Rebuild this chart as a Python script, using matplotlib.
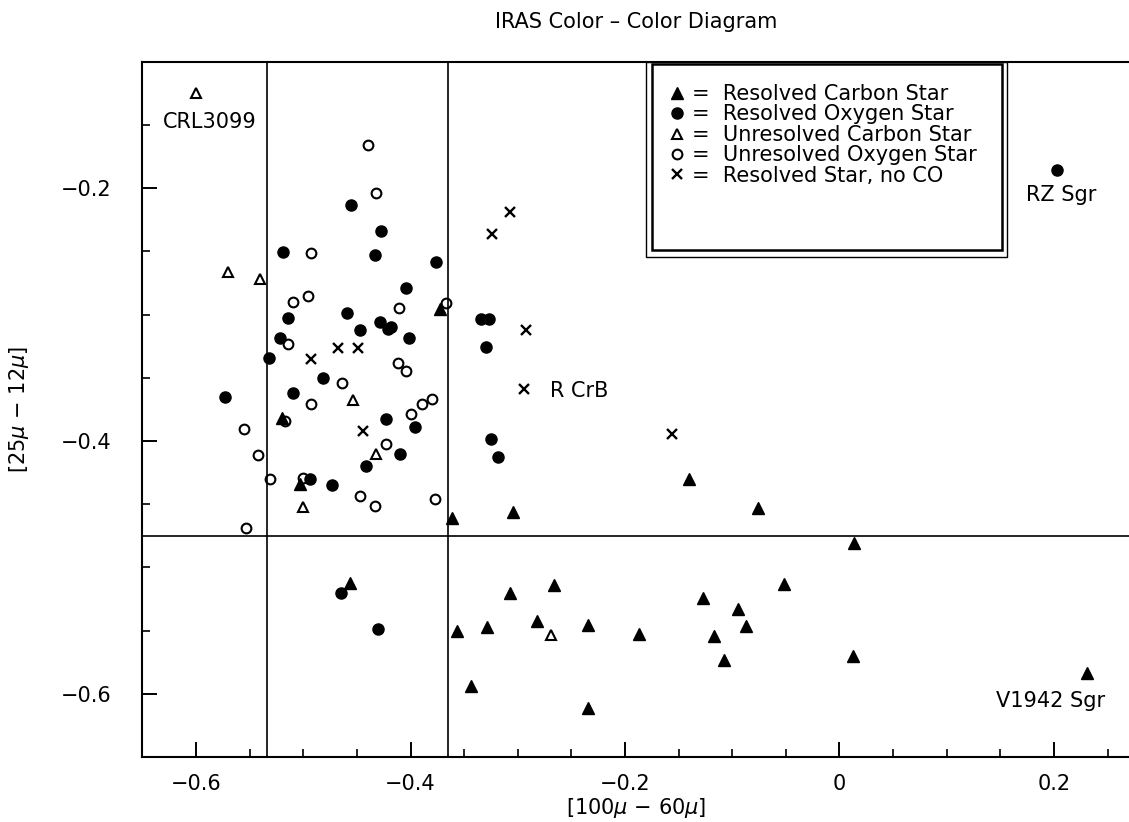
import matplotlib
matplotlib.use("Agg")
import matplotlib.pyplot as plt
from matplotlib.lines import Line2D
from matplotlib.patches import Rectangle
from matplotlib.ticker import MultipleLocator

# resolved carbon stars (filled triangles)
rc_x = [-0.3728, -0.361, -0.3045, -0.140, -0.0761, 0.014, -0.0513, 0.013, 0.2305,
        -0.3567, -0.3284, -0.3439, -0.3069, -0.2817, -0.2662, -0.2349, -0.2349,
        -0.1873, -0.1277, -0.1174, -0.1081, -0.0948, -0.0873, -0.4567, -0.5033, -0.5203]
rc_y = [-0.2957, -0.4606, -0.4559, -0.430, -0.4527, -0.4804, -0.5128, -0.570, -0.5832,
        -0.5507, -0.5468, -0.5942, -0.520, -0.5428, -0.5138, -0.5455, -0.6116,
        -0.5528, -0.5243, -0.5542, -0.5729, -0.5328, -0.546, -0.512, -0.4343, -0.3816]

# resolved oxygen stars (filled circles)
ro_x = [0.2025, -0.4653, -0.4302, -0.4728, -0.4939, -0.5188, -0.5141, -0.5219, -0.5318,
        -0.4821, -0.5095, -0.5732, -0.4551, -0.4278, -0.4334, -0.3765, -0.4045, -0.4592,
        -0.4473, -0.4287, -0.4213, -0.4178, -0.4017, -0.3346, -0.3271, -0.3293, -0.3253,
        -0.3184, -0.4231, -0.3961, -0.4101, -0.4411]
ro_y = [-0.186, -0.520, -0.5489, -0.4348, -0.4303, -0.2503, -0.3025, -0.3188, -0.3346,
        -0.3504, -0.3623, -0.365, -0.2134, -0.234, -0.2532, -0.2583, -0.2788, -0.2986,
        -0.3125, -0.3057, -0.3115, -0.3099, -0.3183, -0.3038, -0.3038, -0.3257, -0.3987,
        -0.4127, -0.3829, -0.3889, -0.41, -0.4198]

# unresolved carbon stars (open triangles)
uc_x = [-0.6002, -0.5701, -0.5405, -0.4541, -0.4318, -0.5002, -0.2687]
uc_y = [-0.1251, -0.2662, -0.2722, -0.3676, -0.4105, -0.4522, -0.5532]

# unresolved oxygen stars (open circles)
uo_x = [-0.4396, -0.4318, -0.4107, -0.3672, -0.4924, -0.4955, -0.5095, -0.5141, -0.4924,
        -0.5552, -0.5421, -0.5312, -0.5536, -0.5172, -0.5002, -0.4635, -0.4116, -0.4038,
        -0.3992, -0.3889, -0.3796, -0.4231, -0.4473, -0.3775, -0.4334]
uo_y = [-0.1662, -0.2037, -0.2946, -0.2907, -0.2511, -0.2854, -0.2899, -0.3231, -0.371,
        -0.3908, -0.4113, -0.4303, -0.4685, -0.3842, -0.4295, -0.3539, -0.3381, -0.3447,
        -0.3789, -0.3705, -0.3666, -0.4026, -0.4435, -0.446, -0.4514]

# resolved stars without CO (crosses)
nc_x = [-0.3075, -0.3237, -0.292, -0.2945, -0.1563, -0.4924, -0.4676, -0.4489, -0.4448]
nc_y = [-0.219, -0.2361, -0.3125, -0.3587, -0.3947, -0.3354, -0.3262, -0.3262, -0.3921]

# named objects
names = ["CRL3099", "R CrB", "RZ Sgr", "V1942 Sgr"]
name_x = [-0.631, -0.270, 0.1737, 0.146]
name_y = [-0.148, -0.3605, -0.2055, -0.6055]

# dividing lines
vlines = [-0.534, -0.365]
hline = -0.475

plt.rcParams['font.family'] = ['DejaVu Sans']
FS = 15

fig = plt.figure(figsize=(11.29, 8.22), dpi=100)
ax = fig.add_axes([0.1262, 0.0791, 0.8738, 0.8458])

for v in vlines:
    ax.axvline(v, color='black', lw=1.2, zorder=1)
ax.axhline(hline, color='black', lw=1.2, zorder=1)

ax.plot(rc_x, rc_y, ls='none', marker='^', ms=8.5, color='black', zorder=3)
ax.plot(ro_x, ro_y, ls='none', marker='o', ms=8, color='black', zorder=3)
ax.plot(uc_x, uc_y, ls='none', marker='^', ms=7.5, mfc='white', mec='black', mew=1.5, zorder=3)
ax.plot(uo_x, uo_y, ls='none', marker='o', ms=7, mfc='none', mec='black', mew=1.5, zorder=3)
ax.plot(nc_x, nc_y, ls='none', marker='x', ms=7.5, color='black', mew=1.7, zorder=3)

for n, x, y in zip(names, name_x, name_y):
    ax.text(x, y, n, fontsize=FS, ha='left', va='center')

ax.set_xlim(-0.65, 0.27)
ax.set_ylim(-0.65, -0.1)
ax.xaxis.set_minor_locator(MultipleLocator(0.05))
ax.yaxis.set_minor_locator(MultipleLocator(0.05))
ax.set_xticks([-0.6, -0.4, -0.2, 0, 0.2])
ax.set_xticklabels(["\u22120.6", "\u22120.4", "\u22120.2", "0", "0.2"])
ax.set_yticks([-0.6, -0.4, -0.2])
ax.set_yticklabels(["\u22120.6", "\u22120.4", "\u22120.2"])
ax.tick_params(which='major', direction='in', length=11, width=1.4, labelsize=FS)
ax.tick_params(which='minor', direction='in', length=6, width=1.2)
ax.tick_params(axis='x', pad=12)
ax.tick_params(axis='y', pad=22)
for s in ['left', 'bottom', 'top']:
    ax.spines[s].set_linewidth(1.5)
ax.spines['right'].set_visible(False)

ax.set_xlabel(r"[100$\mu$ $-$ 60$\mu$]", fontsize=FS, labelpad=2)
ax.set_ylabel(r"[25$\mu$ $-$ 12$\mu$]", fontsize=FS, labelpad=22)
ax.set_title("IRAS Color \u2013 Color Diagram", fontsize=15, pad=24)

# legend with a double frame
handles = [
    Line2D([], [], ls='none', marker='^', ms=8.5, color='black'),
    Line2D([], [], ls='none', marker='o', ms=8, color='black'),
    Line2D([], [], ls='none', marker='^', ms=7.5, mfc='white', mec='black', mew=1.5),
    Line2D([], [], ls='none', marker='o', ms=7, mfc='none', mec='black', mew=1.5),
    Line2D([], [], ls='none', marker='x', ms=7.5, color='black', mew=1.7),
]
labels = ["=  Resolved Carbon Star", "=  Resolved Oxygen Star",
          "=  Unresolved Carbon Star", "=  Unresolved Oxygen Star",
          "=  Resolved Star, no CO"]
ax.legend(handles, labels, loc='upper left', bbox_to_anchor=(0.5337, 0.968),
          frameon=False, fontsize=FS, borderpad=0, borderaxespad=0,
          handlelength=0.8, handletextpad=0.3, labelspacing=0.02)
ax.add_patch(Rectangle((0.5101, 0.7187), 0.3666, 0.2813, transform=ax.transAxes,
                       fill=False, lw=1.0, ec='black', clip_on=False, zorder=4))
ax.add_patch(Rectangle((0.5162, 0.7292), 0.3548, 0.2675, transform=ax.transAxes,
                       fill=False, lw=1.8, ec='black', clip_on=False, zorder=4))

fig.savefig("out.png", dpi=100)
